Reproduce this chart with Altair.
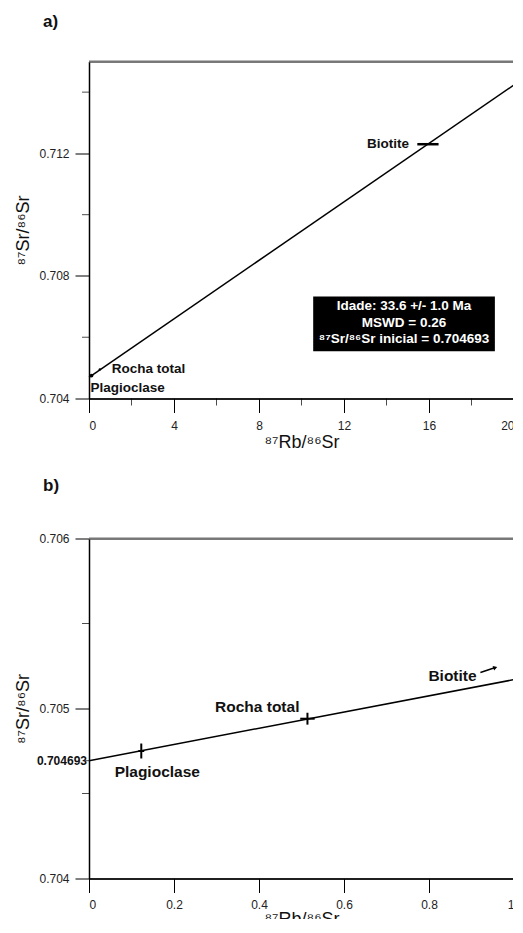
import altair as alt
import pandas as pd

FONT = "Liberation Sans"

# ---------------- Panel a data ----------------
a_names = ["Plagioclase", "Rocha total", "Biotite"]
a_rb = [0.12, 0.51, 15.95]
a_sr = [0.70475, 0.70495, 0.71230]
a_rb_err = [0.0, 0.0, 0.5]
a_dot_size = [14, 6, 0]

iso_a_x = [0, 20]
iso_a_y = [0.704693, 0.714235]

a_x_major = [0, 4, 8, 12, 16, 20]
a_x_minor = [2, 6, 10, 14, 18]
a_y_major = [0.704, 0.708, 0.712]
a_y_minor = [0.706, 0.710, 0.714]

box_lines = ["Idade: 33.6 +/- 1.0 Ma", "MSWD = 0.26", "⁸⁷Sr/⁸⁶Sr inicial = 0.704693"]
box_line_y = [0.70701, 0.70648, 0.70593]
box_x = [10.55, 19.1]
box_y = [0.70554, 0.70733]

# ---------------- Panel b data ----------------
b_names = ["Plagioclase", "Rocha total"]
b_rb = [0.123, 0.514]
b_sr = [0.70475, 0.70494]
b_rb_err = [0.007, 0.017]
b_sr_err = [0.000044, 0.000035]

iso_b_x = [0, 1]
iso_b_y = [0.704693, 0.705170]

b_x_ticks = [0, 0.2, 0.4, 0.6, 0.8, 1.0]
b_y_major = [0.704, 0.705, 0.706]
b_y_minor = [0.7045, 0.7055]
initial_ratio = 0.704693

biotite_label_b = (0.912, 0.70519)
arrow_b_x = [0.921, 0.956]
arrow_b_y = [0.705212, 0.705241]

X_TITLE = "⁸⁷Rb/⁸⁶Sr"
Y_TITLE = "⁸⁷Sr/⁸⁶Sr"

W = 425
HA = 337
HB = 340


def axis_x(values, fmt, lpad=8, tpad=2):
    return alt.Axis(values=values, format=fmt, title=X_TITLE, grid=False,
                    tickSize=14, tickColor="black", tickWidth=1,
                    domainColor="black", domainWidth=1.5,
                    labelFontSize=12, labelColor="#222", labelPadding=lpad,
                    labelFont=FONT, titleFont=FONT, titleFontSize=18,
                    titleFontWeight="normal", titleColor="#111", titlePadding=tpad)


def axis_y(values, fmt):
    return alt.Axis(values=values, format=fmt, title=Y_TITLE, grid=False,
                    tickSize=14, tickColor="black", tickWidth=1,
                    domainColor="black", domainWidth=1.5,
                    labelFontSize=12, labelColor="#222", labelPadding=6,
                    labelFont=FONT, titleFont=FONT, titleFontSize=18,
                    titleFontWeight="normal", titleColor="#111", titlePadding=6)


# shared scales and axes (same objects in every layer so they merge cleanly)
xs_a = alt.Scale(domain=[0, 20], nice=False, zero=False)
ys_a = alt.Scale(domain=[0.704, 0.715], nice=False, zero=False)
ax_a = axis_x(a_x_major, "d")
ay_a = axis_y(a_y_major, ".3f")

xs_b = alt.Scale(domain=[0, 1], nice=False, zero=False)
ys_b = alt.Scale(domain=[0.704, 0.706], nice=False, zero=False)
ax_b = axis_x(b_x_ticks, "~g", lpad=7, tpad=0)
ay_b = axis_y(b_y_major, ".3f")


def XA(f):
    return alt.X(f, scale=xs_a, axis=ax_a, title=X_TITLE)


def YA(f):
    return alt.Y(f, scale=ys_a, axis=ay_a, title=Y_TITLE)


def XB(f):
    return alt.X(f, scale=xs_b, axis=ax_b, title=X_TITLE)


def YB(f):
    return alt.Y(f, scale=ys_b, axis=ay_b, title=Y_TITLE)


def top_border():
    return alt.Chart(pd.DataFrame({"k": [0]})).mark_rule(color="#777", strokeWidth=2).encode(
        x=alt.value(0), x2=alt.value(W), y=alt.value(0))


lab_a = dict(font=FONT, fontSize=13.5, fontWeight="bold", color="#111")
lab_b = dict(font=FONT, fontSize=15.5, fontWeight="bold", color="#111")

# ---------------- Panel a ----------------
pts_a = pd.DataFrame({"name": a_names, "rb": a_rb, "sr": a_sr, "err": a_rb_err, "s": a_dot_size})
pts_a["lo"] = pts_a["rb"] - pts_a["err"]
pts_a["hi"] = pts_a["rb"] + pts_a["err"]

line_a = alt.Chart(pd.DataFrame({"x": iso_a_x, "y": iso_a_y})).mark_line(
    color="black", strokeWidth=1.5).encode(x=XA("x:Q"), y=YA("y:Q"))

minor_xa = alt.Chart(pd.DataFrame({"x": a_x_minor})).mark_tick(
    orient="vertical", size=7, thickness=1, color="black").encode(x=XA("x:Q"), y=alt.value(HA + 3.5))
minor_ya = alt.Chart(pd.DataFrame({"y": a_y_minor})).mark_tick(
    orient="horizontal", size=7, thickness=1, color="black").encode(y=YA("y:Q"), x=alt.value(-3.5))

dots_a = alt.Chart(pts_a.iloc[:2]).mark_circle(color="black", opacity=1).encode(
    x=XA("rb:Q"), y=YA("sr:Q"), size=alt.Size("s:Q", scale=None, legend=None))

err_a = alt.Chart(pts_a.iloc[2:]).mark_rule(color="black", strokeWidth=2.5).encode(
    x=XA("lo:Q"), x2="hi:Q", y=YA("sr:Q"))

lab_a_rt = alt.Chart(pts_a.iloc[1:2]).mark_text(align="left", baseline="middle", dx=12, dy=0, **lab_a).encode(
    x=XA("rb:Q"), y=YA("sr:Q"), text="name:N")
lab_a_pl = alt.Chart(pts_a.iloc[0:1]).mark_text(align="left", baseline="middle", dx=-1, dy=12, **lab_a).encode(
    x=XA("rb:Q"), y=YA("sr:Q"), text="name:N")
lab_a_bi = alt.Chart(pts_a.iloc[2:3]).mark_text(align="right", baseline="middle", dx=-19, dy=0, **lab_a).encode(
    x=XA("rb:Q"), y=YA("sr:Q"), text="name:N")

box = alt.Chart(pd.DataFrame({"x": [box_x[0]], "x2": [box_x[1]], "y": [box_y[0]], "y2": [box_y[1]]})).mark_rect(
    color="black").encode(x=XA("x:Q"), x2="x2:Q", y=YA("y:Q"), y2="y2:Q")

box_text = alt.Chart(pd.DataFrame({"t": box_lines, "y": box_line_y,
                                   "x": [(box_x[0] + box_x[1]) / 2] * 3})).mark_text(
    align="center", baseline="middle", font=FONT, fontSize=13.5, fontWeight="bold", color="white").encode(
    x=XA("x:Q"), y=YA("y:Q"), text="t:N")

panel_a = alt.layer(
    line_a, minor_xa, minor_ya, top_border(),
    dots_a, err_a, lab_a_rt, lab_a_pl, lab_a_bi, box, box_text
).properties(width=W, height=HA,
             title=alt.TitleParams("a)", anchor="start", frame="group", dx=-46, fontSize=17,
                                   fontWeight="bold", font=FONT, color="#111", offset=30))

# ---------------- Panel b ----------------
pts_b = pd.DataFrame({"name": b_names, "rb": b_rb, "sr": b_sr, "ex": b_rb_err, "ey": b_sr_err})
pts_b["xlo"] = pts_b["rb"] - pts_b["ex"]
pts_b["xhi"] = pts_b["rb"] + pts_b["ex"]
pts_b["ylo"] = pts_b["sr"] - pts_b["ey"]
pts_b["yhi"] = pts_b["sr"] + pts_b["ey"]

line_b = alt.Chart(pd.DataFrame({"x": iso_b_x, "y": iso_b_y})).mark_line(
    color="black", strokeWidth=1.5).encode(x=XB("x:Q"), y=YB("y:Q"))

minor_yb = alt.Chart(pd.DataFrame({"y": b_y_minor})).mark_tick(
    orient="horizontal", size=7, thickness=1, color="black").encode(y=YB("y:Q"), x=alt.value(-3.5))

errx_b = alt.Chart(pts_b).mark_rule(color="black", strokeWidth=2).encode(
    x=XB("xlo:Q"), x2="xhi:Q", y=YB("sr:Q"))
erry_b = alt.Chart(pts_b).mark_rule(color="black", strokeWidth=2).encode(
    x=XB("rb:Q"), y=YB("ylo:Q"), y2="yhi:Q")

lab_b_pl = alt.Chart(pts_b.iloc[0:1]).mark_text(align="center", baseline="middle", dx=16, dy=21, **lab_b).encode(
    x=XB("rb:Q"), y=YB("sr:Q"), text="name:N")
lab_b_rt = alt.Chart(pts_b.iloc[1:2]).mark_text(align="right", baseline="middle", dx=-8, dy=-12, **lab_b).encode(
    x=XB("rb:Q"), y=YB("sr:Q"), text="name:N")

lab_b_bi = alt.Chart(pd.DataFrame({"x": [biotite_label_b[0]], "y": [biotite_label_b[1]], "t": ["Biotite"]})).mark_text(
    align="right", baseline="middle", **lab_b).encode(x=XB("x:Q"), y=YB("y:Q"), text="t:N")

arrow_df = pd.DataFrame({"x": arrow_b_x, "y": arrow_b_y})
arrow_line = alt.Chart(arrow_df).mark_line(color="black", strokeWidth=1.5).encode(x=XB("x:Q"), y=YB("y:Q"))
arrow_head = alt.Chart(arrow_df.iloc[1:]).mark_point(
    shape="triangle-right", filled=True, color="black", size=22, angle=342, opacity=1).encode(
    x=XB("x:Q"), y=YB("y:Q"))

init_df = pd.DataFrame({"y": [initial_ratio], "t": [f"{initial_ratio:.6f}"]})
init_tick = alt.Chart(init_df).mark_tick(orient="horizontal", size=4, thickness=1, color="black").encode(
    y=YB("y:Q"), x=alt.value(-2))
init_label = alt.Chart(init_df).mark_text(align="right", baseline="middle", font=FONT, fontSize=12,
                                          fontWeight="bold", color="#111", dx=-1).encode(
    y=YB("y:Q"), x=alt.value(-1), text="t:N")

panel_b = alt.layer(
    line_b, minor_yb, top_border(),
    errx_b, erry_b, lab_b_pl, lab_b_rt, lab_b_bi, arrow_line, arrow_head, init_tick, init_label
).properties(width=W, height=HB,
             title=alt.TitleParams("b)", anchor="start", frame="group", dx=-46, fontSize=17,
                                   fontWeight="bold", font=FONT, color="#111", offset=37.5))

chart = alt.vconcat(panel_a, panel_b, spacing=24).properties(
    padding={"left": 6, "top": 3.5, "right": -5.5, "bottom": -11}
).configure(font=FONT).configure_view(stroke="black", strokeWidth=1)

chart.save("out.html", embed_options={"renderer": "svg", "actions": False})
